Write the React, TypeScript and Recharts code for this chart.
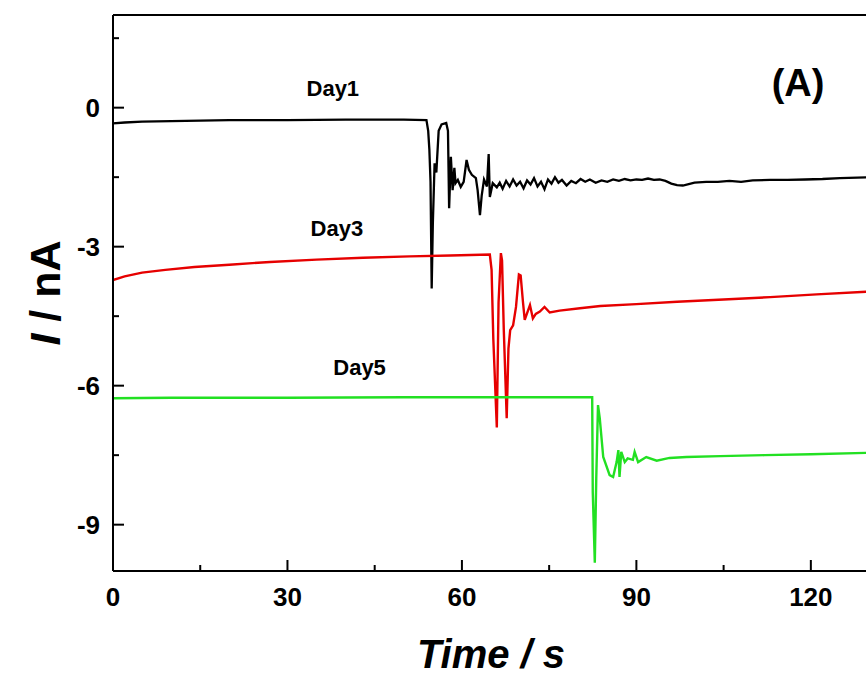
import React from 'react'
import { LineChart, Line, XAxis, YAxis, ReferenceDot } from 'recharts'

// [time s, current nA]
const day1: [number, number][] = [
  [0, -0.34], [2, -0.32], [5, -0.3], [10, -0.29], [15, -0.28], [20, -0.27], [30, -0.27],
  [40, -0.26], [50, -0.26], [53.9, -0.27], [54.2, -0.5], [54.4, -0.9], [54.6, -1.6],
  [54.8, -3.9], [55.0, -2.5], [55.3, -1.2], [55.6, -1.4], [56.0, -0.5], [56.5, -0.36],
  [57.3, -0.33], [57.6, -0.5], [57.8, -2.17], [58.1, -1.06], [58.4, -1.78], [58.7, -1.3],
  [58.9, -1.63], [59.3, -1.56], [59.8, -1.71], [60.3, -1.6], [60.8, -1.13], [61.2, -1.34],
  [61.7, -1.45], [62.4, -1.52], [62.7, -1.78], [63.1, -2.32], [63.4, -1.9], [63.8, -1.55],
  [64.3, -1.7], [64.6, -1.0], [64.8, -1.93], [65.3, -1.63], [66.0, -1.72], [66.5, -1.62],
  [67, -1.75], [67.6, -1.58], [68.2, -1.7], [68.8, -1.55], [69.4, -1.68], [70, -1.6],
  [70.6, -1.74], [71.2, -1.57], [71.8, -1.66], [72.4, -1.52], [73, -1.7], [73.6, -1.6],
  [74.2, -1.76], [74.8, -1.55], [75.4, -1.64], [76, -1.5], [76.6, -1.62], [77.2, -1.56],
  [78, -1.68], [78.8, -1.58], [79.6, -1.63], [80.4, -1.54], [81.2, -1.6], [82, -1.55],
  [83, -1.62], [84, -1.57], [85, -1.6], [86, -1.55], [87, -1.58], [88, -1.54], [89, -1.57],
  [90, -1.55], [91, -1.56], [92, -1.53], [93, -1.56], [94, -1.55], [95, -1.58], [96, -1.64],
  [97, -1.67], [98, -1.68], [99, -1.65], [100, -1.62], [102, -1.6], [104, -1.6], [106, -1.58],
  [108, -1.6], [110, -1.57], [113, -1.56], [116, -1.56], [119, -1.55], [122, -1.54],
  [125, -1.52], [128, -1.51], [130, -1.5],
]

const day3: [number, number][] = [
  [0, -3.72], [2, -3.64], [5, -3.56], [9, -3.5], [14, -3.44], [20, -3.39], [27, -3.33],
  [35, -3.28], [43, -3.24], [51, -3.21], [58, -3.19], [64.8, -3.17], [65.1, -3.5],
  [65.4, -5.0], [66.0, -6.9], [66.3, -4.2], [66.7, -3.14], [66.9, -3.3], [67.2, -4.8],
  [67.7, -6.7], [68.0, -5.2], [68.3, -4.8], [68.8, -4.7], [69.3, -4.3], [69.8, -3.6],
  [70.1, -3.62], [70.5, -4.2], [70.8, -4.58], [71.3, -4.4], [71.7, -4.26], [72.2, -4.55],
  [72.7, -4.45], [73.4, -4.4], [74.2, -4.3], [75.1, -4.42], [76.8, -4.38], [80.3, -4.33],
  [83.8, -4.28], [90, -4.24], [97, -4.19], [105, -4.14], [113, -4.09], [121, -4.03],
  [130, -3.97],
]

const day5: [number, number][] = [
  [0, -6.27], [10, -6.26], [30, -6.26], [50, -6.25], [70, -6.25], [82.4, -6.25],
  [82.5, -8.3], [82.85, -9.82], [83.1, -8.0], [83.4, -6.42], [83.7, -6.7], [84.3, -7.54],
  [85.4, -7.93], [86.0, -7.97], [86.6, -7.65], [86.9, -7.39], [87.1, -7.97], [87.4, -7.43],
  [88.0, -7.65], [88.5, -7.57], [89.4, -7.6], [89.7, -7.43], [90.3, -7.65], [91.7, -7.54],
  [93.5, -7.62], [95.7, -7.56], [98.6, -7.54], [104.4, -7.52], [112, -7.5], [120, -7.48],
  [130, -7.45],
]

const xTicks = [0, 15, 30, 45, 60, 75, 90, 105, 120]
const yTicks = [1.5, 0, -1.5, -3, -4.5, -6, -7.5, -9]

const toRows = (pts: [number, number][]) => pts.map(([t, i]) => ({ t, i }))

const FONT = 'Liberation Sans, Arial, sans-serif'

const makeTick = (side: 'bottom' | 'top' | 'left' | 'right', step: number) => (props: any) => {
  const { x, y, payload } = props
  const v = payload.value
  const major = Math.abs(v % step) < 1e-6
  const len = major ? 11 : 6
  let line
  if (side === 'bottom') line = <line x1={x} x2={x} y1={y} y2={y - len} stroke="#000" strokeWidth={2} />
  else if (side === 'top') line = <line x1={x} x2={x} y1={y} y2={y + len} stroke="#000" strokeWidth={2} />
  else if (side === 'left') line = <line x1={x} x2={x + len} y1={y} y2={y} stroke="#000" strokeWidth={2} />
  else line = <line x1={x} x2={x - len} y1={y} y2={y} stroke="#000" strokeWidth={2} />
  let label = null
  if (major && side === 'bottom')
    label = (
      <text x={x} y={y + 35} textAnchor="middle" fontFamily={FONT} fontWeight="bold" fontSize={26} fill="#000">
        {v}
      </text>
    )
  if (major && side === 'left')
    label = (
      <text x={x - 13} y={y + 9} textAnchor="end" fontFamily={FONT} fontWeight="bold" fontSize={26} fill="#000">
        {v}
      </text>
    )
  return (
    <g>
      {line}
      {label}
    </g>
  )
}

const YTitle = (props: any) => {
  const vb = props.viewBox
  const cx = vb.x + 45
  const cy = vb.y + vb.height / 2
  return (
    <text
      x={cx}
      y={cy}
      transform={`rotate(-90 ${cx} ${cy})`}
      textAnchor="middle"
      dominantBaseline="central"
      fontFamily={FONT}
      fontWeight="bold"
      fontSize={43}
      fill="#000"
    >
      <tspan fontStyle="italic">I</tspan>
      <tspan> / nA</tspan>
    </text>
  )
}

const XTitle = (props: any) => {
  const vb = props.viewBox
  return (
    <text
      x={vb.x + vb.width / 2}
      y={vb.y + 97}
      textAnchor="middle"
      fontFamily={FONT}
      fontWeight="bold"
      fontStyle="italic"
      fontSize={40}
      fill="#000"
    >
      Time / s
    </text>
  )
}

const tag = (value: string, size: number) => ({
  value,
  position: 'center' as const,
  fill: '#000',
  fontSize: size,
  fontWeight: 'bold',
  fontFamily: FONT,
})

export default function App() {
  const axisLine = { stroke: '#000', strokeWidth: 2 }
  return (
    <div style={{ position: 'fixed', left: 0, top: 0, width: 866, height: 679, overflow: 'hidden', background: '#fff' }}>
      <LineChart width={869} height={679} margin={{ top: 0, right: 0, left: 0, bottom: 0 }}>
        <XAxis
          dataKey="t"
          type="number"
          domain={[0, 130]}
          ticks={xTicks}
          interval={0}
          allowDataOverflow
          height={108}
          tickSize={0}
          tickMargin={0}
          tickLine={false}
          axisLine={axisLine}
          tick={makeTick('bottom', 30)}
          label={{ content: XTitle }}
        />
        <XAxis
          xAxisId="top"
          orientation="top"
          type="number"
          domain={[0, 130]}
          ticks={xTicks}
          interval={0}
          height={15}
          tickSize={0}
          tickMargin={0}
          tickLine={false}
          axisLine={axisLine}
          tick={makeTick('top', 30)}
        />
        <YAxis
          type="number"
          domain={[-10, 2]}
          ticks={yTicks}
          interval={0}
          allowDataOverflow
          width={113}
          tickSize={0}
          tickMargin={0}
          tickLine={false}
          axisLine={axisLine}
          tick={makeTick('left', 3)}
          label={{ content: YTitle }}
        />
        <YAxis
          yAxisId="r"
          orientation="right"
          type="number"
          domain={[-10, 2]}
          ticks={yTicks}
          interval={0}
          width={0}
          tickSize={0}
          tickMargin={0}
          tickLine={false}
          axisLine={axisLine}
          tick={makeTick('right', 3)}
        />
        <Line data={toRows(day1)} dataKey="i" type="linear" stroke="#000000" strokeWidth={2.3} dot={false} isAnimationActive={false} />
        <Line data={toRows(day3)} dataKey="i" type="linear" stroke="#e60000" strokeWidth={2.4} dot={false} isAnimationActive={false} />
        <Line data={toRows(day5)} dataKey="i" type="linear" stroke="#22e022" strokeWidth={2.4} dot={false} isAnimationActive={false} />
        <ReferenceDot x={37.8} y={0.43} r={0} fill="none" stroke="none" label={tag('Day1', 22)} />
        <ReferenceDot x={38.5} y={-2.6} r={0} fill="none" stroke="none" label={tag('Day3', 22)} />
        <ReferenceDot x={42.4} y={-5.6} r={0} fill="none" stroke="none" label={tag('Day5', 22)} />
        <ReferenceDot x={117.8} y={0.55} r={0} fill="none" stroke="none" label={tag('(A)', 38)} />
      </LineChart>
    </div>
  )
}
